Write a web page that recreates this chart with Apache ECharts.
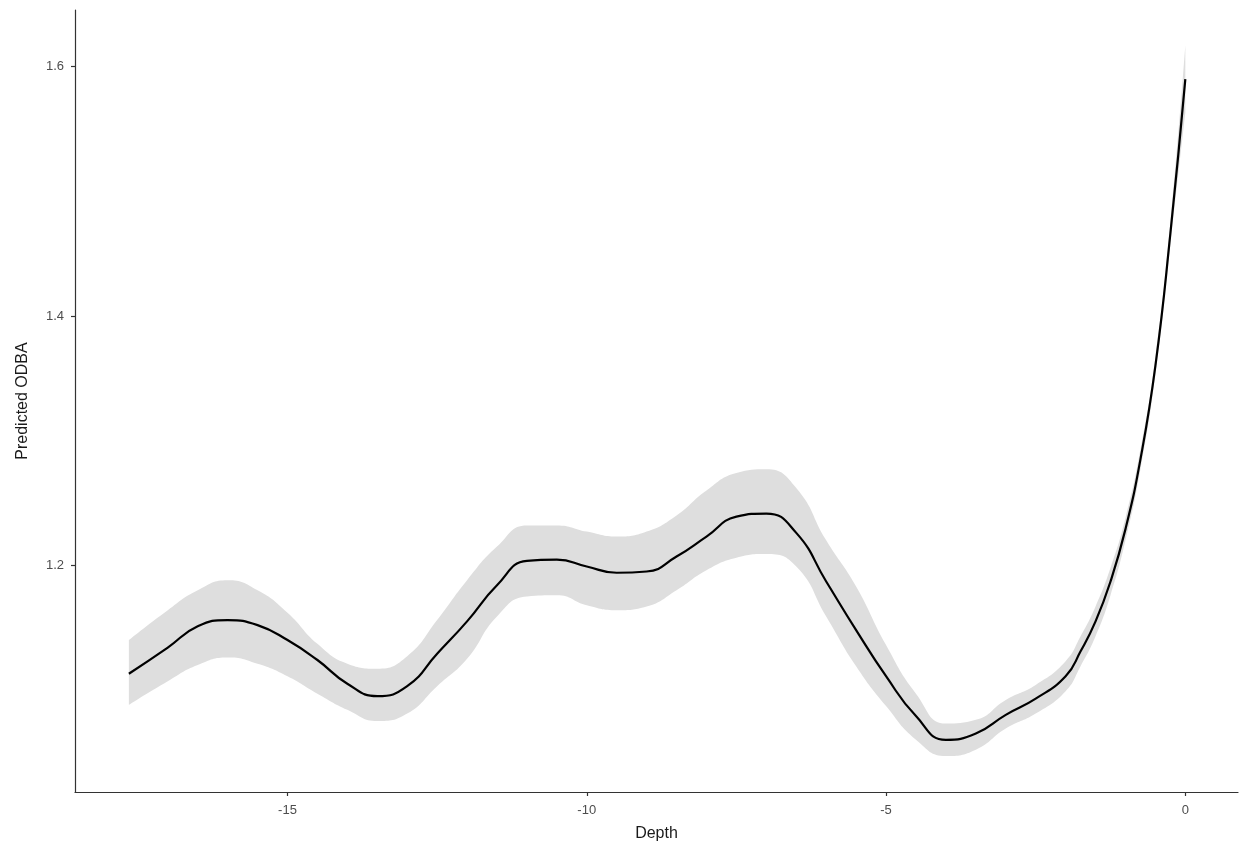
<!DOCTYPE html>
<html>
<head>
<meta charset="utf-8">
<script src="https://cdn.jsdelivr.net/npm/echarts@6/dist/echarts.min.js"></script>
<style>
  html, body { margin: 0; padding: 0; background: #fff; }
  #chart { width: 1241px; height: 851px; }
</style>
</head>
<body>
<div id="chart"></div>
<script>
// depth values (x) and model prediction with its confidence band
const depth = [-17.65, -17, -16.5, -16, -15.5, -15, -14.5, -14, -13.5, -13, -12.5, -12, -11.5, -11, -10.5, -10,
  -9.5, -9, -8.5, -8, -7.5, -7, -6.5, -6, -5.5, -5, -4.5, -4, -3.5, -3, -2.5, -2, -1.75, -1.5, -1.25, -1,
  -0.75, -0.5, -0.25, 0]
const fit = [1.113, 1.134, 1.151, 1.156, 1.152, 1.140, 1.124, 1.105, 1.095, 1.103, 1.129, 1.155, 1.184, 1.2035, 1.2045, 1.199,
  1.194, 1.195, 1.207, 1.223, 1.239, 1.2415, 1.226, 1.187, 1.148, 1.111, 1.079, 1.060, 1.065, 1.080, 1.093, 1.111, 1.131, 1.155, 1.187, 1.229,
  1.285, 1.360, 1.466, 1.590]
const lower = [1.088, 1.107, 1.120, 1.126, 1.121, 1.111, 1.097, 1.084, 1.075, 1.081, 1.103, 1.125, 1.159, 1.175, 1.176, 1.168,
  1.164, 1.167, 1.180, 1.196, 1.206, 1.209, 1.199, 1.159, 1.119, 1.087, 1.060, 1.047, 1.052, 1.069, 1.081, 1.099, 1.119, 1.143, 1.176, 1.220,
  1.277, 1.353, 1.457, 1.563]
const upper = [1.140, 1.164, 1.180, 1.188, 1.180, 1.162, 1.137, 1.121, 1.117, 1.127, 1.156, 1.188, 1.215, 1.232, 1.232, 1.227,
  1.223, 1.227, 1.240, 1.260, 1.274, 1.277, 1.262, 1.220, 1.183, 1.136, 1.097, 1.073, 1.076, 1.092, 1.104, 1.123, 1.143, 1.167, 1.198, 1.238,
  1.293, 1.367, 1.475, 1.617]

const xTicks = [-15, -10, -5, 0]
const yTicks = [1.2, 1.4, 1.6]

const chart = echarts.init(document.getElementById('chart'), null, { renderer: 'canvas' })

const font = '"Liberation Sans", Arial, sans-serif'
const axisLine = { show: true, onZero: false, lineStyle: { color: '#333333', width: 1.2 } }
const axisTick = { show: true, length: 4, lineStyle: { color: '#333333', width: 1.2 } }

// band series keep y in the first dimension so that the stack adds on y
const bandEncode = { x: 1, y: 0 }

chart.setOption({
  backgroundColor: '#ffffff',
  animation: false,
  grid: { left: 75, right: 3, top: 10, bottom: 59 },
  xAxis: {
    type: 'value',
    min: -18.55,
    max: 0.88,
    name: 'Depth',
    nameLocation: 'middle',
    nameGap: 34,
    nameTextStyle: { color: '#1a1a1a', fontSize: 16, fontFamily: font },
    axisLine: axisLine,
    axisTick: { ...axisTick, customValues: xTicks },
    axisLabel: { customValues: xTicks, color: '#4d4d4d', fontSize: 13, fontFamily: font, margin: 12 },
    splitLine: { show: false },
  },
  yAxis: {
    type: 'value',
    min: 1.0181,
    max: 1.6455,
    name: 'Predicted ODBA',
    nameLocation: 'middle',
    nameGap: 44,
    nameTextStyle: { color: '#1a1a1a', fontSize: 16, fontFamily: font },
    axisLine: axisLine,
    axisTick: { ...axisTick, customValues: yTicks },
    axisLabel: {
      customValues: yTicks, color: '#4d4d4d', fontSize: 13, fontFamily: font, margin: 11,
      formatter: (v) => v.toFixed(1),
    },
    splitLine: { show: false },
  },
  series: [
    {
      type: 'line',
      stack: 'band',
      encode: bandEncode,
      data: depth.map((d, i) => [lower[i], d]),
      smooth: 0.5,
      symbol: 'none',
      lineStyle: { opacity: 0 },
      silent: true,
    },
    {
      type: 'line',
      stack: 'band',
      encode: bandEncode,
      data: depth.map((d, i) => [upper[i] - lower[i], d]),
      smooth: 0.5,
      symbol: 'none',
      lineStyle: { opacity: 0 },
      areaStyle: { color: '#dedede', opacity: 1 },
      silent: true,
    },
    {
      type: 'line',
      data: depth.map((d, i) => [d, fit[i]]),
      smooth: 0.5,
      symbol: 'none',
      lineStyle: { color: '#000000', width: 2.2 },
    },
  ],
})
</script>
</body>
</html>
